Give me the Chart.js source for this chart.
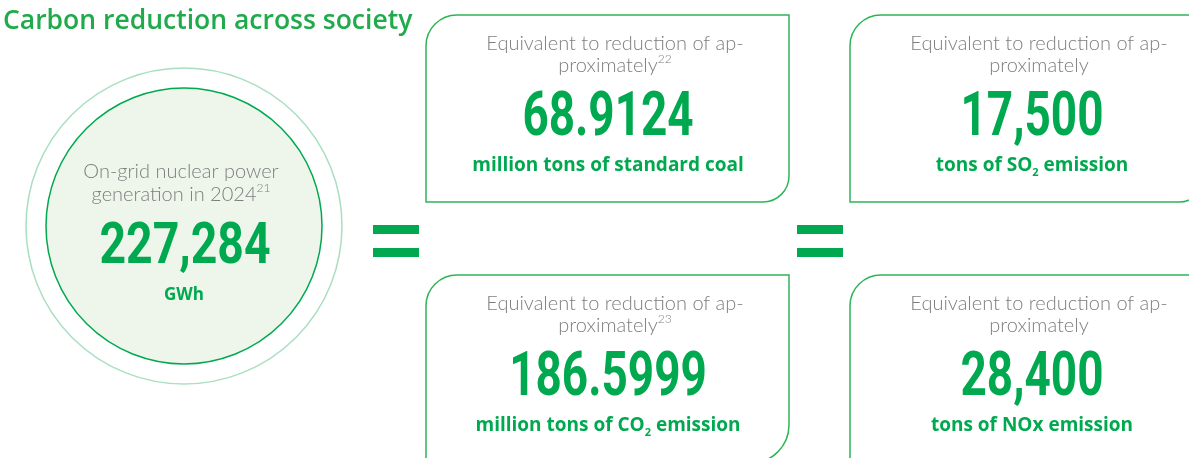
<!DOCTYPE html>
<html>
<head>
<meta charset="utf-8">
<script src="https://cdn.jsdelivr.net/npm/chart.js@4.4.1/dist/chart.umd.min.js"></script>
<style>
  html, body { margin: 0; padding: 0; background: #fff; overflow: hidden; }
  canvas { display: block; }
</style>
</head>
<body>
<canvas id="chart" width="1189" height="458"></canvas>
<script>
// text + values
const title = "Carbon reduction across society";
const circleLines = ["On-grid nuclear power", "generation in 2024"];
const circleNote = "21";
const circleValue = "227,284";
const circleUnit = "GWh";
const boxLines = ["Equivalent to reduction of ap-", "proximately"];
const boxNotes = ["22", "", "23", ""];
const boxValues = ["68.9124", "17,500", "186.5999", "28,400"];
// {2} = subscript
const boxUnits = [
  "million tons of standard coal",
  "tons of SO{2} emission",
  "million tons of CO{2} emission",
  "tons of NOx emission",
];

const GREEN = "#00a94f";
const GREEN_LINE = "#2fb457";
const GRAY = "#7d7d7d";

// box layout in page units (x: 0..1189, y: 0..458)
const boxes = [
  { x: 426, y: 15, w: 363, h: 187, br: 26 },
  { x: 850, y: 15, w: 355, h: 187, br: 26 },
  { x: 426, y: 275, w: 363, h: 188, br: 38 },
  { x: 850, y: 275, w: 363, h: 188, br: 38 },
];

/**
 * Splits "CO{2}" style strings into segments
 */
const parseRich = (str) => {
  const segs = [];
  const re = /\{([^}]*)\}/g;
  let last = 0, m;
  while ((m = re.exec(str))) {
    if (m.index > last) segs.push({ t: str.slice(last, m.index) });
    segs.push({ t: m[1], sub: true });
    last = re.lastIndex;
  }
  if (last < str.length) segs.push({ t: str.slice(last) });
  return segs;
};

/**
 * Draws a row of segments centred on cx
 */
const drawRich = (ctx, segs, cx, by, size, weight, family, color) => {
  const fontFor = (s) => `${weight} ${s.sub || s.sup ? Math.round(size * 0.58) : size}px ${family}`;
  let total = 0;
  segs.forEach((s) => {
    ctx.font = fontFor(s);
    s.w = ctx.measureText(s.t).width;
    total += s.w;
  });
  let xx = cx - total / 2;
  ctx.fillStyle = color;
  ctx.textAlign = "left";
  ctx.textBaseline = "alphabetic";
  segs.forEach((s) => {
    ctx.font = fontFor(s);
    let off = 0;
    if (s.sub) off = size * 0.28;
    if (s.sup) off = -size * 0.45;
    ctx.fillText(s.t, xx, by + off);
    xx += s.w;
  });
};

/**
 * Condensed big number (horizontally squeezed bold face)
 */
const drawNumber = (ctx, text, cx, by, size, squeeze) => {
  ctx.save();
  ctx.translate(cx, by);
  ctx.scale(squeeze, 1);
  ctx.font = `700 ${size}px Roboto`;
  ctx.fillStyle = GREEN;
  ctx.textAlign = "center";
  ctx.textBaseline = "alphabetic";
  ctx.fillText(text, 0, 0);
  ctx.restore();
};

// top-left and bottom-right corners rounded, the other two square
const boxPath = (ctx, x0, y0, x1, y1, r1, r2) => {
  ctx.beginPath();
  ctx.moveTo(x0, y0 + r1);
  ctx.arcTo(x0, y0, x0 + r1, y0, r1);
  ctx.lineTo(x1, y0);
  ctx.lineTo(x1, y1 - r2);
  ctx.arcTo(x1, y1, x1 - r2, y1, r2);
  ctx.lineTo(x0, y1);
  ctx.closePath();
};

const infographic = {
  id: "infographic",
  afterDraw(chart) {
    const { ctx } = chart;
    const sx = chart.scales.x;
    const sy = chart.scales.y;
    const X = (v) => sx.getPixelForValue(v);
    const Y = (v) => sy.getPixelForValue(v);
    const S = (v) => X(v) - X(0);
    ctx.save();

    // title
    ctx.font = "600 26.5px 'Open Sans'";
    ctx.fillStyle = "#1fab4b";
    ctx.textAlign = "left";
    ctx.textBaseline = "alphabetic";
    ctx.fillText(title, X(3), Y(29));

    // circle
    const ccx = X(184), ccy = Y(226);
    ctx.beginPath();
    ctx.arc(ccx, ccy, S(158), 0, Math.PI * 2);
    ctx.strokeStyle = "#a9dfc0";
    ctx.lineWidth = 1.5;
    ctx.stroke();
    ctx.beginPath();
    ctx.arc(ccx, ccy, S(138), 0, Math.PI * 2);
    ctx.fillStyle = "#eef6ec";
    ctx.fill();
    ctx.strokeStyle = GREEN;
    ctx.lineWidth = 1.5;
    ctx.stroke();

    drawRich(ctx, [{ t: circleLines[0] }], X(181), Y(178), 20, 300, "Lato", GRAY);
    drawRich(ctx, [{ t: circleLines[1] }, { t: circleNote, sup: true }], X(181), Y(201), 20, 300, "Lato", GRAY);
    drawNumber(ctx, circleValue, X(185), Y(263), 58, 0.8);
    drawRich(ctx, [{ t: circleUnit }], X(184), Y(300), 17, 700, "'Open Sans'", GREEN);

    // equals signs
    ctx.fillStyle = GREEN;
    [373, 797].forEach((ex) => {
      ctx.fillRect(X(ex), Y(225), S(46), S(9));
      ctx.fillRect(X(ex), Y(248), S(46), S(9));
    });

    // boxes
    boxes.forEach((b, i) => {
      ctx.strokeStyle = GREEN_LINE;
      ctx.lineWidth = 1.5;
      boxPath(ctx, X(b.x), Y(b.y), X(b.x + b.w), Y(b.y + b.h), S(31), S(b.br));
      ctx.stroke();
      const cx = b.x + 182;
      const top = b.y;
      const l2 = [{ t: boxLines[1] }];
      if (boxNotes[i]) l2.push({ t: boxNotes[i], sup: true });
      drawRich(ctx, [{ t: boxLines[0] }], X(cx + 7), Y(top + 35), 20, 300, "Lato", GRAY);
      drawRich(ctx, l2, X(cx + 7), Y(top + 57), 20, 300, "Lato", GRAY);
      drawNumber(ctx, boxValues[i], X(cx), Y(top + 120), 62, 0.74);
      drawRich(ctx, parseRich(boxUnits[i]), X(cx), Y(top + 156), 19, 700, "'Open Sans'", GREEN);
    });

    ctx.restore();
  },
};

new Chart(document.getElementById("chart"), {
  type: "scatter",
  data: { datasets: [] },
  options: {
    responsive: false,
    animation: false,
    devicePixelRatio: 1,
    layout: { padding: 0 },
    plugins: { legend: { display: false }, tooltip: { enabled: false } },
    scales: {
      x: { type: "linear", min: 0, max: 1189, display: false },
      y: { type: "linear", min: 0, max: 458, reverse: true, display: false },
    },
  },
  plugins: [infographic],
});
</script>
</body>
</html>
